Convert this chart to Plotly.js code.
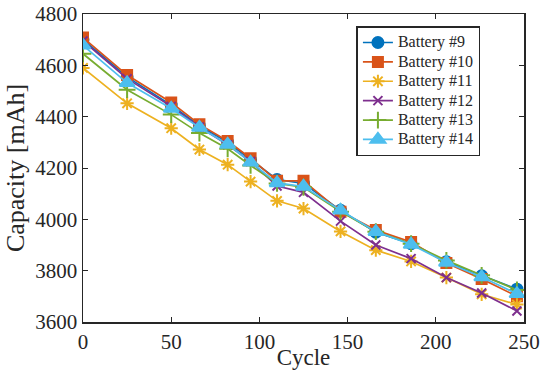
<!DOCTYPE html>
<html>
<head>
<meta charset="utf-8">
<script src="https://cdn.plot.ly/plotly-3.0.1.min.js"></script>
<style>html,body{margin:0;padding:0;background:#fff;}#chart{width:540px;height:370px;}</style>
</head>
<body>
<div id="chart"></div>
<script>
const cycles = [0, 25, 50, 66, 82, 95, 110, 125, 146, 166, 186, 206, 226, 246];
const battery9  = [4700, 4555, 4445, 4365, 4300, 4232, 4155, 4140, 4035, 3950, 3905, 3835, 3780, 3728];
const battery10 = [4708, 4562, 4455, 4370, 4305, 4238, 4150, 4150, 4030, 3958, 3912, 3830, 3768, 3700];
const battery11 = [4590, 4452, 4355, 4272, 4213, 4147, 4072, 4042, 3953, 3880, 3836, 3773, 3708, 3668];
const battery12 = [4695, 4548, 4440, 4360, 4290, 4225, 4130, 4105, 3993, 3900, 3847, 3773, 3713, 3643];
const battery13 = [4645, 4505, 4408, 4336, 4275, 4210, 4140, 4125, 4030, 3952, 3905, 3840, 3782, 3725];
const battery14 = [4678, 4532, 4432, 4358, 4292, 4222, 4142, 4128, 4035, 3952, 3902, 3832, 3775, 3710];
const seriesNames = ['Battery #9', 'Battery #10', 'Battery #11', 'Battery #12', 'Battery #13', 'Battery #14'];
const seriesValues = [battery9, battery10, battery11, battery12, battery13, battery14];
const xTicks = [0, 50, 100, 150, 200, 250];
const yTicks = [3600, 3800, 4000, 4200, 4400, 4600, 4800];

const colors = ['#0072BD', '#D95319', '#EDB120', '#7E2F8E', '#77AC30', '#4DBEEE'];
const symbols = ['circle', 'square', 'asterisk-open', 'x-thin-open', 'cross-thin-open', 'triangle-up'];
const sizes = [11, 10, 11, 9, 12, 13];

const traces = seriesValues.map((vals, i) => ({
  x: cycles, y: vals, type: 'scatter', mode: 'lines+markers',
  name: '<span style="font-size:16px">' + seriesNames[i] + '</span>',
  line: {color: colors[i], width: 1.7},
  marker: {symbol: symbols[i], size: sizes[i], color: colors[i], line: {color: colors[i], width: 2}}
}));

const FAM = 'Liberation Serif';
const TXT = '#262626';
const layout = {
  width: 540, height: 370,
  margin: {l: 83, r: 16, t: 14, b: 48},
  paper_bgcolor: '#fff', plot_bgcolor: '#fff',
  font: {family: FAM, size: 20, color: TXT},
  showlegend: true,
  legend: {
    x: 0.62, y: 0.96, xanchor: 'left', yanchor: 'top',
    bgcolor: '#fff', bordercolor: TXT, borderwidth: 1.5,
    font: {family: FAM, size: 12.6, color: TXT},
    tracegroupgap: 0
  },
  xaxis: {
    range: [0, 250], tickvals: xTicks, ticktext: xTicks.map(String),
    showgrid: false, zeroline: false, showline: true, linecolor: TXT, linewidth: 1.5,
    mirror: 'ticks', ticks: 'inside', ticklen: 5, tickcolor: TXT, tickwidth: 1,
    tickfont: {family: FAM, size: 21, color: TXT},
    title: {text: 'Cycle', font: {family: FAM, size: 23, color: TXT}, standoff: 0}
  },
  yaxis: {
    range: [3600, 4800], tickvals: yTicks, ticktext: yTicks.map(String),
    showgrid: false, zeroline: false, showline: true, linecolor: TXT, linewidth: 1.5,
    mirror: 'ticks', ticks: 'inside', ticklen: 5, tickcolor: TXT, tickwidth: 1,
    tickfont: {family: FAM, size: 21, color: TXT},
    title: {text: 'Capacity [mAh]', font: {family: FAM, size: 26, color: TXT}, standoff: 3}
  }
};
Plotly.newPlot('chart', traces, layout, {displayModeBar: false, staticPlot: true});
</script>
</body>
</html>
